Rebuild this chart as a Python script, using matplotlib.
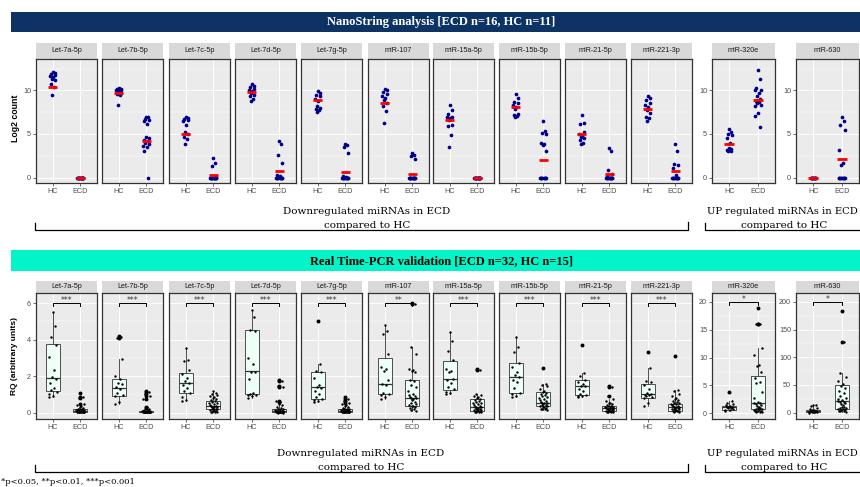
import numpy as np
import matplotlib
matplotlib.use("Agg")
import matplotlib.pyplot as plt
from matplotlib.patches import Rectangle
from matplotlib.lines import Line2D

W, H = 860, 487

mirnas = ["Let-7a-5p", "Let-7b-5p", "Let-7c-5p", "Let-7d-5p", "Let-7g-5p", "miR-107",
          "miR-15a-5p", "miR-15b-5p", "miR-21-5p", "miR-221-3p", "miR-320e", "miR-630"]

# NanoString log2 counts (HC n=11, ECD n=16)
ns_hc = [
    [12.1, 12.0, 11.9, 11.8, 11.7, 11.5, 11.3, 11.2, 10.7, 10.4, 9.45],
    [10.3, 10.2, 10.2, 10.1, 10.0, 9.9, 9.8, 9.7, 9.6, 9.5, 8.3],
    [6.9, 6.8, 6.7, 6.6, 6.5, 6.0, 5.2, 5.0, 4.7, 4.4, 3.8],
    [10.7, 10.5, 10.4, 10.2, 10.0, 9.9, 9.7, 9.5, 9.3, 9.0, 8.8],
    [9.9, 9.7, 9.5, 9.3, 9.0, 8.8, 8.2, 8.0, 7.9, 7.7, 7.5],
    [10.2, 10.0, 9.8, 9.6, 9.3, 9.1, 8.9, 8.6, 8.2, 7.6, 6.3],
    [8.3, 7.7, 7.3, 7.0, 6.9, 6.8, 6.6, 6.0, 5.9, 4.9, 3.5],
    [9.6, 9.1, 8.7, 8.5, 8.3, 8.1, 7.9, 7.3, 7.2, 7.1, 7.0],
    [7.2, 6.3, 6.1, 5.2, 5.0, 4.8, 4.6, 4.5, 4.3, 4.0, 3.8],
    [9.3, 9.1, 8.9, 8.6, 8.3, 8.1, 7.8, 7.4, 7.0, 6.8, 6.5],
    [5.6, 5.2, 5.0, 4.9, 4.5, 4.0, 3.4, 3.3, 3.2, 3.1, 3.1],
    [0, 0, 0, 0, 0, 0, 0, 0, 0, 0, 0],
]
ns_ecd = [
    [0, 0, 0, 0, 0, 0, 0, 0, 0, 0, 0, 0, 0, 0, 0, 0],
    [7.0, 6.9, 6.7, 6.6, 6.5, 6.2, 4.7, 4.5, 4.3, 4.2, 4.0, 3.8, 3.6, 3.5, 3.0, 0],
    [2.3, 1.7, 1.35, 0.1, 0, 0, 0, 0, 0, 0, 0, 0, 0, 0, 0, 0],
    [4.2, 3.8, 2.6, 1.7, 0.3, 0.2, 0.1, 0, 0, 0, 0, 0, 0, 0, 0, 0],
    [3.9, 3.7, 3.5, 2.8, 0.2, 0.1, 0, 0, 0, 0, 0, 0, 0, 0, 0, 0],
    [2.8, 2.6, 2.5, 2.1, 0, 0, 0, 0, 0, 0, 0, 0, 0, 0, 0, 0],
    [0, 0, 0, 0, 0, 0, 0, 0, 0, 0, 0, 0, 0, 0, 0, 0],
    [6.5, 5.3, 5.1, 5.0, 4.0, 3.8, 3.7, 3.0, 0, 0, 0, 0, 0, 0, 0, 0],
    [3.4, 3.0, 0.9, 0.4, 0.2, 0, 0, 0, 0, 0, 0, 0, 0, 0, 0, 0],
    [3.9, 3.1, 1.6, 1.4, 1.1, 0.3, 0, 0, 0, 0, 0, 0, 0, 0, 0, 0],
    [12.3, 11.3, 10.3, 10.1, 10.0, 9.7, 9.3, 9.0, 8.8, 8.7, 8.5, 8.3, 8.2, 7.4, 7.1, 5.85],
    [7.0, 6.5, 6.0, 5.5, 3.2, 1.7, 1.5, 0, 0, 0, 0, 0, 0, 0, 0, 0],
]
# red bars
ns_hc_mark = [10.35, 9.75, 5.05, 9.85, 8.9, 8.6, 6.6, 8.1, 5.0, 7.9, 3.9, 0.0]
ns_ecd_mark = [0.0, 4.2, 0.35, 0.78, 0.66, 0.45, 0.0, 2.0, 0.43, 0.7, 8.85, 2.1]

# Real Time-PCR RQ (HC n=15, ECD n=32)
pcr_hc = [
    [5.5, 4.75, 4.15, 3.7, 3.05, 2.35, 1.95, 1.85, 1.6, 1.35, 1.25, 1.15, 1.0, 0.9, 0.85],
    [4.2, 4.15, 4.1, 2.95, 2.0, 1.85, 1.6, 1.55, 1.4, 1.3, 1.1, 0.95, 0.9, 0.6, 0.45],
    [3.55, 2.9, 2.8, 2.35, 2.1, 1.9, 1.75, 1.6, 1.5, 1.35, 1.2, 1.1, 0.85, 0.7, 0.62],
    [5.6, 5.25, 4.55, 4.45, 3.0, 2.65, 2.25, 2.2, 1.85, 1.05, 1.0, 0.98, 0.95, 0.9, 0.82],
    [5.0, 2.65, 2.3, 2.2, 1.9, 1.5, 1.4, 1.35, 1.2, 1.0, 0.85, 0.75, 0.7, 0.62, 0.58],
    [4.8, 4.45, 4.3, 3.2, 2.5, 2.4, 2.3, 1.8, 1.55, 1.5, 1.1, 1.0, 0.95, 0.85, 0.72],
    [4.4, 3.9, 3.35, 2.9, 2.4, 2.3, 2.2, 1.85, 1.8, 1.6, 1.4, 1.3, 1.15, 1.05, 1.0],
    [4.15, 3.6, 3.3, 2.7, 2.5, 2.2, 2.05, 1.95, 1.8, 1.7, 1.35, 1.1, 1.0, 0.9, 0.83],
    [3.7, 2.15, 2.0, 1.8, 1.7, 1.55, 1.45, 1.43, 1.3, 1.2, 1.0, 0.95, 0.92, 0.9, 0.86],
    [3.3, 2.45, 1.75, 1.65, 1.5, 1.3, 1.1, 1.0, 0.98, 0.95, 0.9, 0.85, 0.8, 0.55, 0.37],
    [3.85, 2.2, 1.9, 1.6, 1.4, 1.3, 1.2, 1.1, 1.05, 1.0, 0.9, 0.8, 0.6, 0.5, 0.35],
    [14, 13, 12, 8, 6, 5, 4, 3, 2.5, 2, 1.5, 1, 0.8, 0.5, 0.3],
]
pcr_ecd = [
    [1.1, 0.85, 0.8, 0.45, 0.4, 0.35, 0.3, 0.25, 0.2, 0.2, 0.18, 0.15, 0.14, 0.12, 0.12, 0.11,
     0.1, 0.1, 0.09, 0.08, 0.08, 0.07, 0.06, 0.06, 0.05, 0.05, 0.04, 0.04, 0.03, 0.02, 0.02, 0.01],
    [1.2, 1.15, 1.0, 0.9, 0.75, 0.3, 0.25, 0.2, 0.15, 0.12, 0.1, 0.09, 0.08, 0.07, 0.07, 0.06,
     0.06, 0.05, 0.05, 0.05, 0.04, 0.04, 0.04, 0.03, 0.03, 0.03, 0.02, 0.02, 0.02, 0.01, 0.01, 0.01],
    [1.2, 1.1, 1.0, 0.95, 0.9, 0.85, 0.8, 0.75, 0.7, 0.65, 0.6, 0.55, 0.5, 0.45, 0.4, 0.38,
     0.35, 0.33, 0.3, 0.28, 0.25, 0.22, 0.2, 0.18, 0.15, 0.12, 0.1, 0.08, 0.06, 0.05, 0.04, 0.02],
    [1.8, 1.75, 1.45, 1.4, 0.65, 0.6, 0.45, 0.4, 0.3, 0.25, 0.22, 0.2, 0.15, 0.12, 0.1, 0.1,
     0.08, 0.08, 0.07, 0.06, 0.05, 0.05, 0.04, 0.04, 0.03, 0.03, 0.02, 0.02, 0.01, 0.01, 0.0, 0.0],
    [0.85, 0.75, 0.65, 0.55, 0.45, 0.4, 0.35, 0.3, 0.25, 0.22, 0.2, 0.18, 0.15, 0.14, 0.12, 0.12,
     0.11, 0.1, 0.1, 0.09, 0.08, 0.07, 0.06, 0.05, 0.05, 0.04, 0.04, 0.03, 0.02, 0.02, 0.01, 0.01],
    [6.0, 5.95, 3.6, 3.2, 2.4, 2.35, 2.3, 2.25, 1.8, 1.75, 1.5, 1.4, 1.2, 1.0, 0.95, 0.9,
     0.85, 0.8, 0.78, 0.75, 0.7, 0.6, 0.5, 0.45, 0.4, 0.38, 0.35, 0.3, 0.25, 0.2, 0.15, 0.1],
    [2.4, 2.35, 1.0, 0.95, 0.9, 0.85, 0.8, 0.75, 0.7, 0.65, 0.6, 0.55, 0.5, 0.45, 0.4, 0.35,
     0.33, 0.3, 0.28, 0.25, 0.22, 0.2, 0.18, 0.15, 0.13, 0.12, 0.1, 0.08, 0.06, 0.05, 0.03, 0.02],
    [2.45, 1.55, 1.5, 1.45, 1.3, 1.2, 1.15, 1.1, 1.0, 0.95, 0.9, 0.85, 0.8, 0.75, 0.7, 0.65,
     0.6, 0.55, 0.5, 0.5, 0.45, 0.42, 0.4, 0.38, 0.35, 0.3, 0.28, 0.25, 0.22, 0.2, 0.18, 0.15],
    [1.45, 1.4, 0.9, 0.75, 0.65, 0.55, 0.5, 0.45, 0.4, 0.38, 0.35, 0.32, 0.3, 0.28, 0.26, 0.25,
     0.24, 0.22, 0.2, 0.18, 0.16, 0.15, 0.14, 0.12, 0.11, 0.1, 0.09, 0.08, 0.06, 0.05, 0.04, 0.02],
    [3.1, 1.25, 1.2, 1.0, 0.9, 0.8, 0.75, 0.7, 0.65, 0.6, 0.55, 0.5, 0.48, 0.45, 0.4, 0.38,
     0.35, 0.32, 0.3, 0.28, 0.26, 0.24, 0.22, 0.2, 0.18, 0.15, 0.13, 0.11, 0.1, 0.08, 0.05, 0.03],
    [18.9, 16.1, 16.0, 11.7, 10.5, 8.7, 8.4, 7.5, 6.3, 5.6, 5.4, 3.8, 2.8, 2.0, 1.9, 1.8,
     1.7, 1.5, 1.3, 1.1, 1.0, 0.9, 0.8, 0.7, 0.6, 0.5, 0.45, 0.4, 0.35, 0.3, 0.25, 0.2],
    [184, 127, 72, 65, 58, 52, 48, 45, 40, 35, 30, 27, 24, 22, 21, 20,
     19, 17, 15, 13, 11, 10, 9, 8, 7, 6, 5, 4, 3.5, 3, 2.5, 2],
]
# box stats: whisker low, q1, median, q3, whisker high
pcr_hc_box = [
    (0.85, 1.2, 1.9, 3.75, 5.5), (0.45, 0.9, 1.35, 1.85, 2.95), (0.62, 1.1, 1.6, 2.15, 3.55),
    (0.82, 1.0, 2.28, 4.5, 5.6), (0.58, 0.73, 1.38, 2.25, 2.65), (0.72, 1.02, 1.57, 3.0, 4.8),
    (1.0, 1.25, 1.83, 2.85, 4.4), (0.83, 1.1, 1.95, 2.7, 4.15), (0.86, 0.95, 1.43, 1.8, 2.15),
    (0.37, 0.8, 1.0, 1.55, 2.45), (0.35, 0.6, 1.05, 1.35, 2.2), (0.3, 0.6, 3.0, 5.5, 14),
]
pcr_ecd_box = [
    (0.01, 0.05, 0.1, 0.2, 0.4), (0.01, 0.02, 0.05, 0.1, 0.2), (0.02, 0.18, 0.35, 0.62, 1.2),
    (0.0, 0.02, 0.08, 0.22, 0.45), (0.01, 0.04, 0.1, 0.2, 0.45), (0.1, 0.37, 0.79, 1.8, 3.6),
    (0.02, 0.11, 0.33, 0.75, 1.0), (0.15, 0.37, 0.55, 1.12, 1.55), (0.02, 0.11, 0.24, 0.38, 0.75),
    (0.03, 0.11, 0.3, 0.48, 1.25), (0.2, 0.75, 1.8, 6.7, 11.7), (2, 7.3, 20.8, 50.8, 72),
]
pcr_stars = ["***", "***", "***", "***", "***", "**", "***", "***", "***", "***", "*", "*"]

# layout in pixels
lefts = [36, 102, 169, 235, 301, 368, 433, 499, 565, 631, 712, 796]
widths = [61] * 10 + [63, 63]
jit = np.array([0.0, 0.07, -0.05, 0.1, -0.09, 0.03, -0.02, 0.08, -0.07, 0.05,
                -0.04, 0.11, -0.11, 0.01, -0.1, 0.06, -0.06, 0.09, -0.03, 0.02])

fig = plt.figure(figsize=(8.6, 4.87), dpi=100)


def fbox(x0, y0, x1, y1):
    return [x0 / W, 1 - y1 / H, (x1 - x0) / W, (y1 - y0) / H]


def strip(x0, y0, x1, y1, label):
    s = fig.add_axes(fbox(x0, y0, x1, y1))
    s.set_facecolor("#D9D9D9")
    s.set_xticks([])
    s.set_yticks([])
    for sp in s.spines.values():
        sp.set_visible(False)
    s.text(0.5, 0.5, label, ha="center", va="center", fontsize=5.2,
           color="#1A1A1A", family="Liberation Sans", transform=s.transAxes)


def style(ax, ylim, major, minor, show_y):
    ax.set_facecolor("#EBEBEB")
    ax.set_xlim(0.4, 2.6)
    ax.set_ylim(*ylim)
    ax.set_xticks([1, 2])
    ax.set_xticklabels(["HC", "ECD"])
    ax.set_yticks(major)
    ax.set_yticks(minor, minor=True)
    ax.grid(True, which="major", color="white", lw=0.7)
    ax.grid(True, which="minor", axis="y", color="white", lw=0.35)
    ax.set_axisbelow(True)
    ax.tick_params(which="minor", length=0)
    ax.tick_params(length=2, width=0.5, color="#333333", labelsize=5.2,
                   labelcolor="#4D4D4D", pad=1.5)
    for lab in ax.get_xticklabels() + ax.get_yticklabels():
        lab.set_family("Liberation Sans")
    if not show_y:
        ax.tick_params(axis="y", length=0, labelleft=False)
    for sp in ax.spines.values():
        sp.set_color("#333333")
        sp.set_linewidth(0.9)


def fig_line(xs, ys, lw=0.9):
    fig.add_artist(Line2D([x / W for x in xs], [1 - y / H for y in ys],
                          transform=fig.transFigure, color="black", lw=lw))


# ---------- banners ----------
fig.add_artist(Rectangle((11 / W, 1 - 32.3 / H), 1, 20 / H, transform=fig.transFigure,
                         facecolor="#0C3364", edgecolor="none"))
fig.text(441 / W, 1 - 22.5 / H, "NanoString analysis [ECD n=16, HC n=11]", color="white",
         fontsize=9, fontweight="bold", family="Liberation Serif", ha="center", va="center")
fig.add_artist(Rectangle((11 / W, 1 - 270.7 / H), 1, 20.7 / H, transform=fig.transFigure,
                         facecolor="#02F5C8", edgecolor="none"))
fig.text(441 / W, 1 - 261 / H, "Real Time-PCR validation [ECD n=32, HC n=15]", color="black",
         fontsize=9, fontweight="bold", family="Liberation Serif", ha="center", va="center")

# ---------- NanoString dot plots ----------
for i, name in enumerate(mirnas):
    x0, w = lefts[i], widths[i]
    strip(x0, 43, x0 + w, 59, name)
    ax = fig.add_axes(fbox(x0, 59, x0 + w, 183))
    style(ax, (-0.62, 13.6), [0, 5, 10], [2.5, 7.5, 12.5], i in (0, 10, 11))
    for g, vals, mark in ((1, ns_hc[i], ns_hc_mark[i]), (2, ns_ecd[i], ns_ecd_mark[i])):
        v = np.array(vals, dtype=float)
        xs = g + jit[np.arange(len(v)) % len(jit)]
        ax.scatter(xs, v, s=7, color="#00008B", linewidths=0, zorder=3)
        ax.plot([g - 0.17, g + 0.17], [mark, mark], color="red", lw=2, zorder=4,
                solid_capstyle="butt")

fig.text(15 / W, 1 - 118 / H, "Log2 count", rotation=90, fontsize=6.3, fontweight="bold",
         family="Liberation Sans", ha="center", va="center")

# ---------- Real Time-PCR box plots ----------
for i, name in enumerate(mirnas):
    x0, w = lefts[i], widths[i]
    strip(x0, 281, x0 + w, 293, name)
    ax = fig.add_axes(fbox(x0, 293, x0 + w, 419))
    if i == 10:
        ylim, major, minor, top = (-1.03, 21.6), [0, 5, 10, 15, 20], [2.5, 7.5, 12.5, 17.5], 20
    elif i == 11:
        ylim, major, minor, top = (-11.4, 216), [0, 50, 100, 150, 200], [25, 75, 125, 175], 200
    else:
        ylim, major, minor, top = (-0.35, 6.55), [0, 2, 4, 6], [1, 3, 5], 6
    stats = []
    for b in (pcr_hc_box[i], pcr_ecd_box[i]):
        stats.append(dict(whislo=b[0], q1=b[1], med=b[2], q3=b[3], whishi=b[4], fliers=[]))
    ax.bxp(stats, positions=[1, 2], widths=0.5, patch_artist=True, showfliers=False,
           showcaps=False, manage_ticks=False,
           boxprops=dict(facecolor="#EEFFF7", edgecolor="#333333", lw=0.6),
           medianprops=dict(color="#333333", lw=0.9),
           whiskerprops=dict(color="#333333", lw=0.6))
    style(ax, ylim, major, minor, i in (0, 10, 11))
    for g, vals, b in ((1, pcr_hc[i], pcr_hc_box[i]), (2, pcr_ecd[i], pcr_ecd_box[i])):
        v = np.array(vals, dtype=float)
        out = v[(v > b[4]) | (v < b[0])]
        ax.scatter(np.full(len(out), g), out, s=8, color="black", linewidths=0, zorder=3)
        xs = g + 1.3 * jit[np.arange(len(v)) % len(jit)]
        ax.scatter(xs, v, s=3, color="black", linewidths=0, zorder=4)
    d = (ylim[1] - ylim[0]) * 0.022
    ax.plot([1, 1, 2, 2], [top - d, top, top, top - d], color="black", lw=0.7, zorder=5)
    ax.text(1.5, top - d * 0.6, pcr_stars[i], ha="center", va="bottom", fontsize=5.5,
            family="DejaVu Sans", color="#333333")

fig.text(15 / W, 1 - 356 / H, "RQ (arbitrary units)", rotation=90, fontsize=6.0,
         fontweight="bold", family="Liberation Sans", ha="center", va="center")

# ---------- group brackets ----------
for yl1, yl2, yb, xc in ((212, 225, 230, 367), (453, 467, 472.3, 361)):
    fig.text(xc / W, 1 - yl1 / H, "Downregulated miRNAs in ECD", fontsize=7.5,
             family="DejaVu Serif", ha="center", va="center")
    fig.text(xc / W, 1 - yl2 / H, "compared to HC", fontsize=7.5,
             family="DejaVu Serif", ha="center", va="center")
    fig.text(782 / W, 1 - yl1 / H, "UP regulated miRNAs in ECD", fontsize=7.2,
             family="DejaVu Serif", ha="center", va="center")
    fig.text(784 / W, 1 - yl2 / H, "compared to HC", fontsize=7.5,
             family="DejaVu Serif", ha="center", va="center")
    fig_line([35, 35, 688, 688], [yb - 7.5, yb, yb, yb - 8])
    fig_line([705, 705, 862], [yb - 7.5, yb, yb])

fig.text(1 / W, 1 - 482 / H, "*p<0.05, **p<0.01, ***p<0.001", fontsize=6.0,
         family="DejaVu Serif", ha="left", va="center")

fig.savefig("out.png", dpi=100)
